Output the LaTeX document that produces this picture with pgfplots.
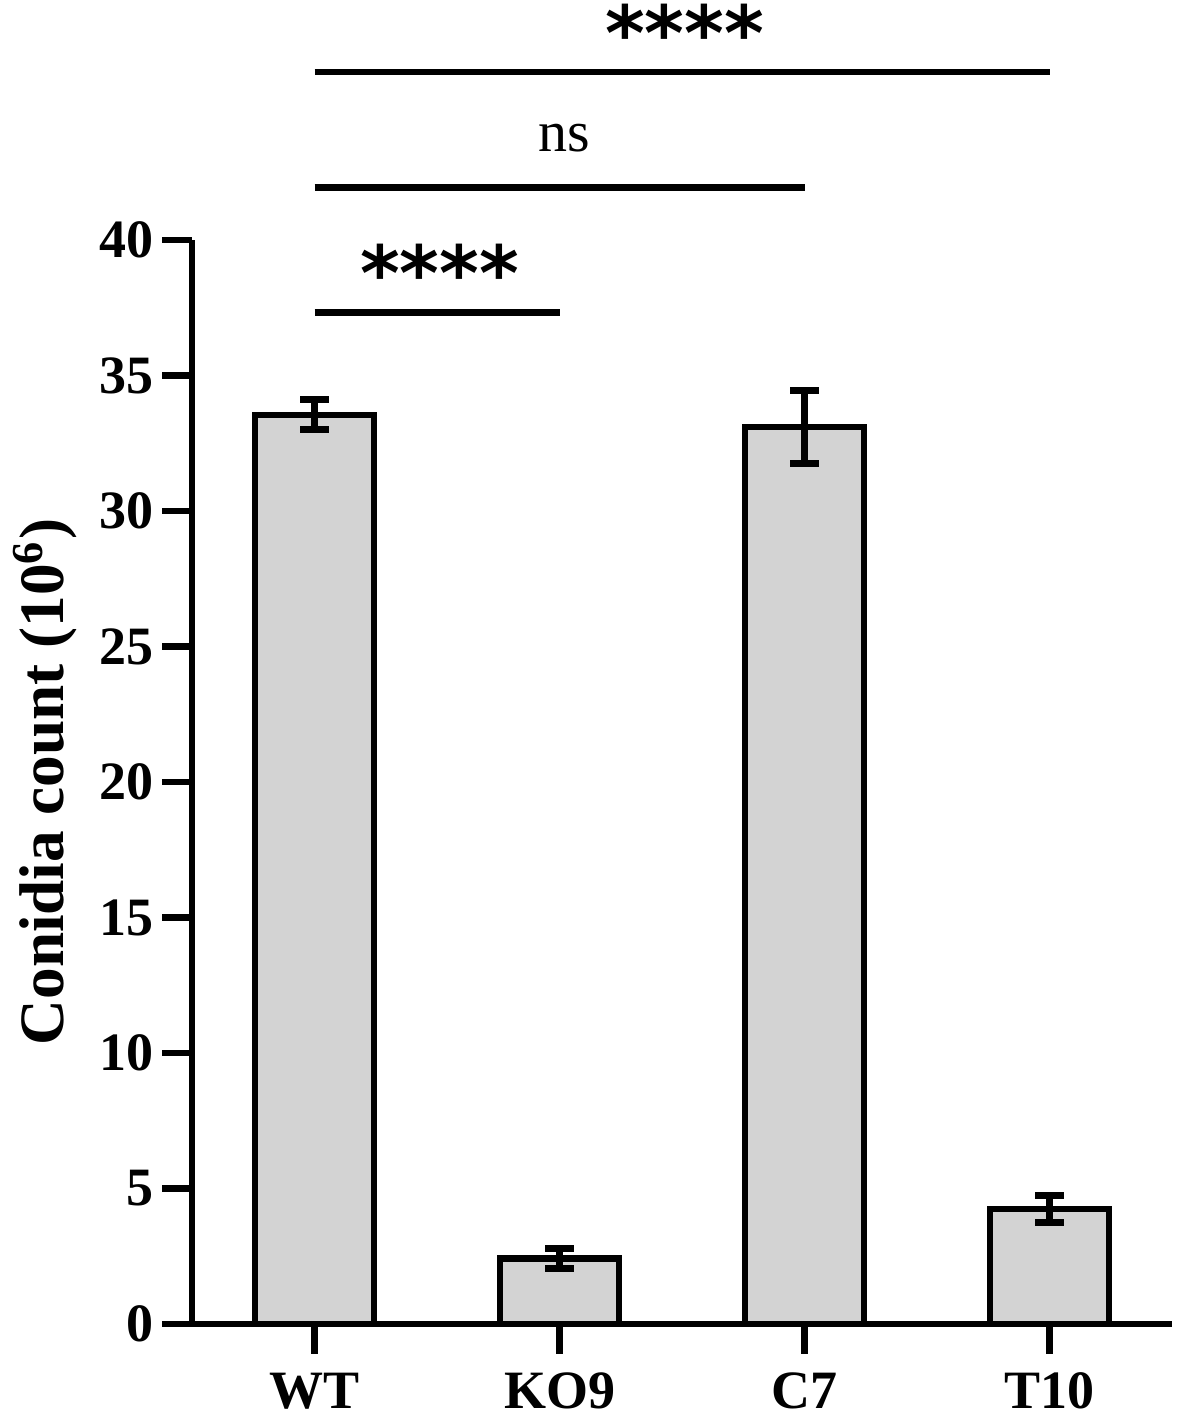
\documentclass[border=0pt]{standalone}
\usepackage{pgfplots}
\pgfplotsset{compat=1.18}
\usepackage{fontspec}
\setmainfont{Liberation Serif}
\newfontfamily\starfont{DejaVu Sans}
\definecolor{barfill}{RGB}{211,211,211}

\begin{document}
\begin{tikzpicture}
  \begin{axis}[
    scale only axis,
    width=245pt,
    height=271pt,
    ybar,
    bar width=0.485,
    xmin=-0.5, xmax=3.5,
    ymin=0, ymax=40,
    xtick={0,1,2,3},
    xticklabels={WT,KO9,C7,T10},
    ytick={0,5,...,40},
    axis x line*=bottom,
    axis y line*=left,
    axis line style={line width=1.65pt},
    tick style={line width=1.65pt, black},
    major tick length=7.4pt,
    tick align=outside,
    clip=false,
    /pgf/number format/assume math mode=true,
    tick label style={font=\fontsize{13.5}{16}\selectfont\bfseries},
    xticklabel style={inner sep=0pt, text depth=0pt, anchor=north, yshift=-4.6pt},
    yticklabel style={xshift=1.3pt},
    ylabel={Conidia count (10\textsuperscript{6})},
    ylabel style={font=\fontsize{15.8}{18}\selectfont\bfseries,
      inner sep=0pt, anchor=center, at={(rel axis cs:-0.15,0.5)}},
  ]
    \addplot[fill=barfill, draw=black, line width=1.6pt,
      error bars/.cd, y dir=both, y explicit,
      error bar style={line width=1.7pt},
      error mark options={rotate=90, mark size=3.6pt, line width=1.75pt}]
      coordinates {
        (0,33.55) +- (0,0.55)
        (1,2.42)  +- (0,0.38)
        (2,33.1)  +- (0,1.35)
        (3,4.25)  +- (0,0.5)
      };
    % significance brackets
    \draw[line width=1.7pt] (axis cs:0,37.33) -- (axis cs:1,37.33);
    \draw[line width=1.7pt] (axis cs:0,41.95) -- (axis cs:2,41.95);
    \draw[line width=1.7pt] (axis cs:0,46.2) -- (axis cs:3,46.2);
    \node[anchor=base, inner sep=0pt, font=\starfont\bfseries\fontsize{19}{19}\selectfont]
      at (axis cs:0.51,37.75) {****};
    \node[anchor=base, inner sep=0pt, font=\fontsize{14.5}{16}\selectfont]
      at (axis cs:1.02,43.25) {ns};
    \node[anchor=base, inner sep=0pt, font=\starfont\bfseries\fontsize{19}{19}\selectfont]
      at (axis cs:1.51,46.62) {****};
    % page frame in the reference's proportions
    \path (rel axis cs:-0.196,-0.084) rectangle (rel axis cs:1.009,1.2214);
  \end{axis}
\end{tikzpicture}
\end{document}
